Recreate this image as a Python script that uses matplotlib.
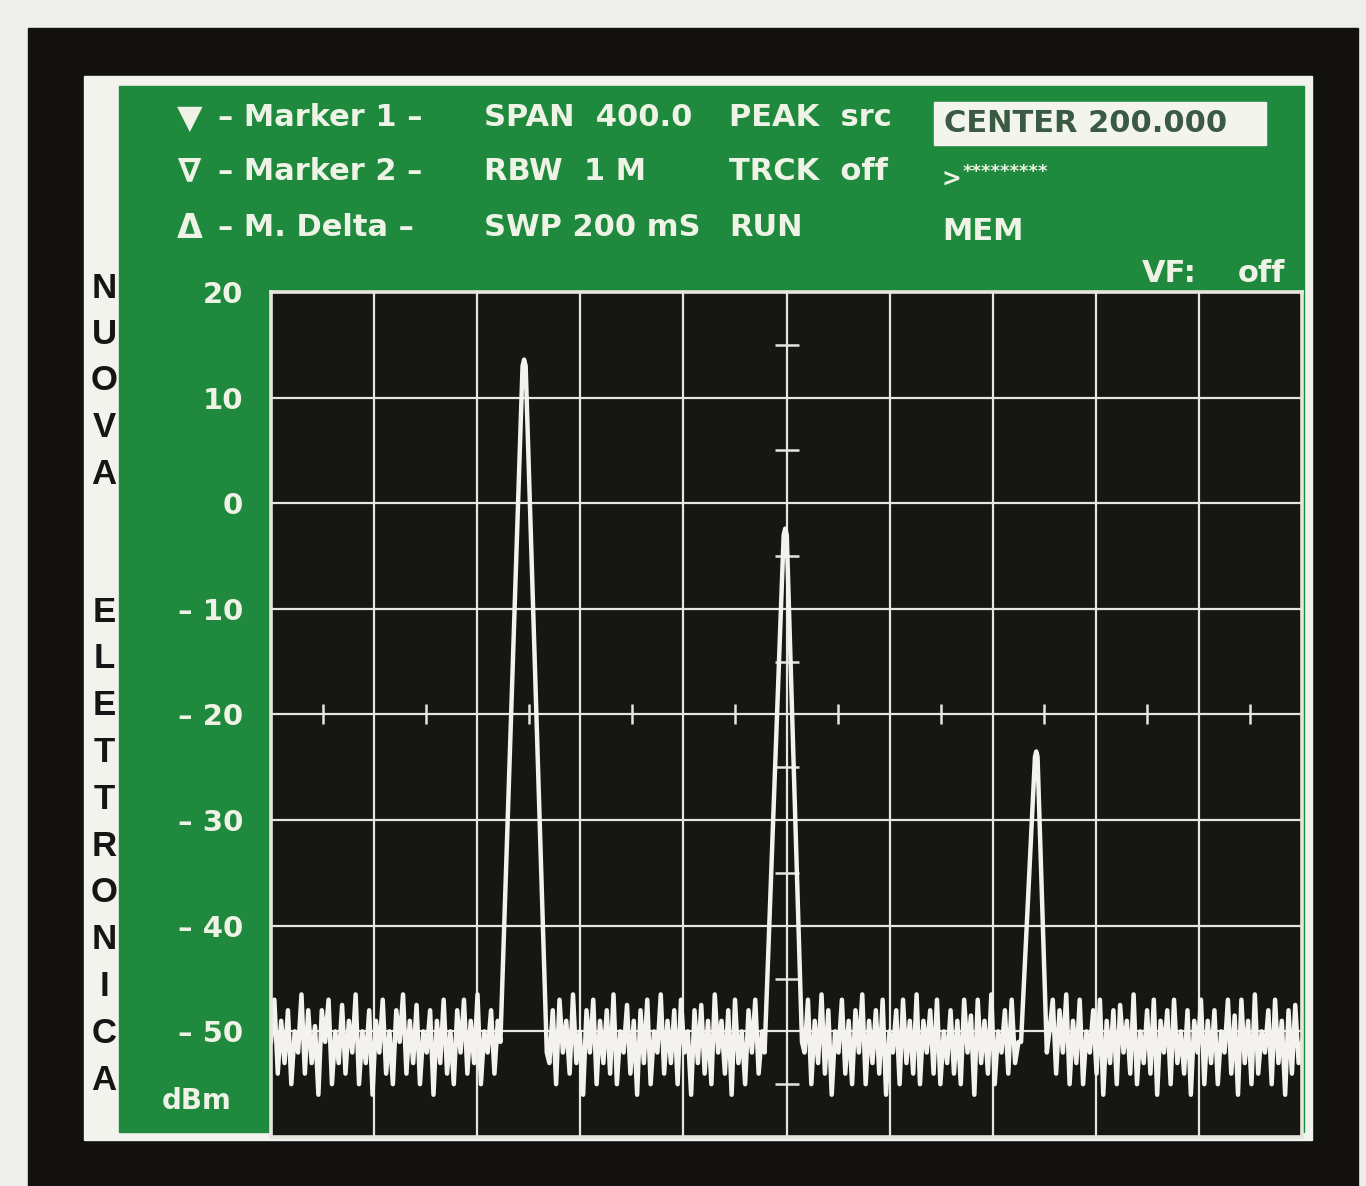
import numpy as np
import matplotlib.pyplot as plt
from matplotlib.patches import Rectangle

# screen settings
f_start, f_stop = 0, 400          # MHz, SPAN 400 around CENTER 200
ref_top, ref_bottom = 20, -60     # dBm
x_grid = [0, 40, 80, 120, 160, 200, 240, 280, 320, 360, 400]
y_grid = [20, 10, 0, -10, -20, -30, -40, -50, -60]
y_labels = ['20', '10', '0', '– 10', '– 20', '– 30', '– 40', '– 50', '']

# noise floor between the carriers (dBm)
noise_1 = [-51, -47, -54, -49, -53, -48, -55, -50, -52, -46.5,
           -54, -48, -53, -49.5, -56, -48, -51, -47, -55, -50,
           -53, -47.5, -54, -49, -52, -46.5, -55, -50, -53, -48,
           -56, -49, -52, -47, -54, -50, -55, -48, -51, -46.5,
           -54, -49, -53, -47.5, -55, -50, -52, -48, -56, -49,
           -53, -47, -54, -50, -55, -48, -52, -47, -54, -49,
           -53, -46.5, -55, -50, -52, -48, -54, -49]
noise_2 = [-53, -48, -55, -47, -52, -49, -54, -46.5, -53, -50,
           -56, -48, -52, -47, -55, -49, -53, -48, -54, -46.5,
           -55, -50, -52, -47.5, -54, -49, -56, -48, -53, -47,
           -55, -50, -52, -46.5, -54, -49, -53, -48, -55, -47,
           -52, -50, -56, -48, -53, -47.5, -54, -49, -55, -46.5,
           -52, -49, -54, -48, -56, -47, -53, -50, -55, -48,
           -52, -47, -54, -50]
noise_3 = [-52, -47, -55, -49, -53, -46.5, -54, -48, -56, -50,
           -52, -47, -54, -49, -55, -48, -52, -46.5, -55, -49,
           -53, -48, -54, -47, -56, -50, -52, -48, -55, -47,
           -53, -49, -54, -46.5, -55, -49, -52, -48, -54, -47,
           -55, -50, -53, -48, -54, -49, -55, -47, -52, -48.5,
           -56, -47, -53, -49, -54, -46.5, -55, -50, -52, -48,
           -54, -47, -53, -51]
noise_4 = [-50, -47, -54, -48, -52, -46.5, -55, -49, -53, -47,
           -55, -50, -52, -48, -54, -47, -56, -49, -53, -48,
           -55, -47.5, -52, -49, -54, -46.5, -55, -50, -53, -48,
           -54, -47, -56, -49, -52, -48, -55, -47, -53, -50,
           -54, -48, -56, -49, -52, -47, -55, -49, -53, -48,
           -55, -50, -52, -47, -54, -48.5, -56, -47, -53, -49,
           -55, -46.5, -54, -50, -52, -48, -55, -47, -53, -49,
           -56, -48, -54, -47.5, -53, -51]
noise_ranges = [(0, 88), (108, 190.5), (207, 290), (302, 400)]

# carriers: vertices of each peak (MHz, dBm)
peak_1_f = [89, 97.6, 98.2, 98.8, 107]
peak_1_db = [-51, 13, 13.6, 13, -52]
peak_2_f = [191.5, 198.9, 199.5, 200.1, 206]
peak_2_db = [-52, -3, -2.4, -3, -51]
peak_3_f = [291, 296.4, 296.9, 297.4, 301]
peak_3_db = [-51, -24, -23.5, -24, -52]

# header text of the screen
col_markers = ['– Marker 1 –', '– Marker 2 –', '– M. Delta –']
col_span = ['SPAN  400.0', 'RBW  1 M', 'SWP 200 mS']
col_mode = ['PEAK  src', 'TRCK  off', 'RUN']
center_txt = 'CENTER 200.000'
side_word_1 = 'NUOVA'
side_word_2 = 'ELETTRONICA'

GREEN = '#1f8a3e'
INK = '#eef3e6'
SCREEN = '#161613'
GRID = '#e6e6de'

# build the trace
f_parts, db_parts = [], []
peaks = [(peak_1_f, peak_1_db), (peak_2_f, peak_2_db), (peak_3_f, peak_3_db), None]
for seg, (a, b), pk in zip([noise_1, noise_2, noise_3, noise_4], noise_ranges, peaks):
    f_parts.append(np.linspace(a, b, len(seg)))
    db_parts.append(np.array(seg))
    if pk is not None:
        f_parts.append(np.array(pk[0]))
        db_parts.append(np.array(pk[1]))
trace_f = np.concatenate(f_parts)
trace_db = np.concatenate(db_parts)

W, H = 1366, 1186
fig = plt.figure(figsize=(W / 100, H / 100), dpi=100)

#%% background: photo edge, black bezel, white frame, green panel
bg = fig.add_axes([0, 0, 1, 1])
bg.set_xlim(0, W)
bg.set_ylim(H, 0)
bg.axis('off')
bg.add_patch(Rectangle((0, 0), W, H, color='#eeeeec'))
bg.add_patch(Rectangle((28, 28), 1330, H, color='#121110'))
bg.add_patch(Rectangle((84, 76), 1228, 1064, color='#f3f3ee'))
bg.add_patch(Rectangle((119, 86), 1185, 1046, color=GREEN))

hfont = dict(family=['DejaVu Sans'], weight='bold', color=INK, va='center')
rows_y = [118, 172, 228]
for y, sym in zip(rows_y, ['▼', '∇', 'Δ']):
    bg.text(190, y, sym, ha='center', fontsize=24, **hfont)
for y, a, b, c in zip(rows_y, col_markers, col_span, col_mode):
    bg.text(218, y, a, fontsize=22, **hfont)
    bg.text(484, y, b, fontsize=22, **hfont)
    bg.text(729, y, c, fontsize=22, **hfont)

bg.add_patch(Rectangle((934, 102), 332, 43, color='#f4f4ee'))
bg.text(944, 123, center_txt, fontsize=22, family=['DejaVu Sans'], weight='bold',
        color='#3b5a44', va='center')
bg.text(941, 180, '>', fontsize=17, **hfont)
bg.text(963, 172, '*********', fontsize=13, **hfont)
bg.text(942, 232, 'MEM', fontsize=22, **hfont)
bg.text(1142, 273, 'VF:', fontsize=22, **hfont)
bg.text(1238, 273, 'off', fontsize=22, **hfont)
bg.text(197, 1101, 'dBm', ha='center', fontsize=20, **hfont)

for i, ch in enumerate(side_word_1):
    bg.text(104, 288 + i * 46.5, ch, ha='center', va='center', fontsize=25,
            family=['Liberation Sans'], weight='bold', color='#151515')
for i, ch in enumerate(side_word_2):
    bg.text(104, 612 + i * 46.8, ch, ha='center', va='center', fontsize=25,
            family=['Liberation Sans'], weight='bold', color='#151515')

#%% the screen itself
left, right, top, bottom = 271, 1302, 292, 1137
ax = fig.add_axes([left / W, 1 - bottom / H, (right - left) / W, (bottom - top) / H])
ax.set_facecolor(SCREEN)
ax.set_xlim(f_start, f_stop)
ax.set_ylim(ref_bottom, ref_top)
ax.set_xticks(x_grid)
ax.set_xticklabels([])
ax.set_yticks(y_grid)
ax.set_yticklabels(y_labels, family='DejaVu Sans', weight='bold', fontsize=21, color=INK)
ax.tick_params(length=0, pad=20)
ax.tick_params(axis='x', pad=0)
ax.grid(True, color=GRID, lw=1.6)
for s in ax.spines.values():
    s.set_color(GRID)
    s.set_linewidth(2.6)

# graticule ticks on the centre line and the -20 dBm line
mid_levels = np.arange(15, -60, -10)
ax.plot(np.full(len(mid_levels), 200), mid_levels, ls='none', marker='_',
        ms=17, mew=1.8, color=GRID)
mid_freqs = np.arange(20, 400, 40)
ax.plot(mid_freqs, np.full(len(mid_freqs), -20), ls='none', marker='|',
        ms=15, mew=1.8, color=GRID)

ax.plot(trace_f, trace_db, color='#f4f2ee', lw=3.2, solid_joinstyle='round')

fig.savefig('out.png', dpi=100, facecolor='#121110')
